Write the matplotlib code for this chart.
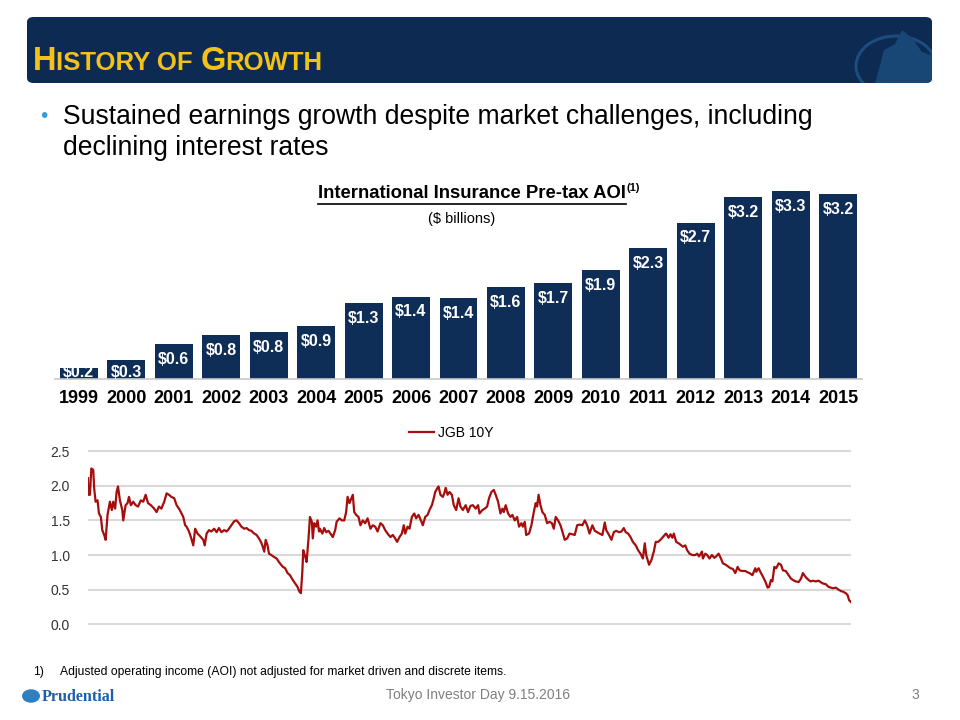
import matplotlib
matplotlib.use("Agg")
import matplotlib.pyplot as plt
from matplotlib.patches import FancyBboxPatch, Circle, Polygon
from matplotlib.lines import Line2D

plt.rcParams['font.family'] = ['Liberation Sans', 'DejaVu Sans']

# bar chart data ($ billions)
years = ["1999", "2000", "2001", "2002", "2003", "2004", "2005", "2006", "2007",
         "2008", "2009", "2010", "2011", "2012", "2013", "2014", "2015"]
aoi = [0.20, 0.34, 0.62, 0.77, 0.83, 0.93, 1.34, 1.45, 1.42,
       1.61, 1.68, 1.92, 2.30, 2.75, 3.20, 3.30, 3.25]
aoi_labels = ["$0.2", "$0.3", "$0.6", "$0.8", "$0.8", "$0.9", "$1.3", "$1.4", "$1.4",
              "$1.6", "$1.7", "$1.9", "$2.3", "$2.7", "$3.2", "$3.3", "$3.2"]

# JGB 10Y yield (%)
jgb_year = [1999.00, 1999.01, 1999.04, 1999.07, 1999.11, 1999.13, 1999.16, 1999.20, 1999.23, 1999.27,
            1999.30, 1999.34, 1999.37, 1999.41, 1999.46, 1999.50, 1999.53, 1999.57, 1999.60, 1999.63,
            1999.67, 1999.72, 1999.74, 1999.79, 1999.83, 1999.86, 1999.90, 1999.95, 2000.00, 2000.05,
            2000.11, 2000.16, 2000.21, 2000.26, 2000.32, 2000.39, 2000.44, 2000.49, 2000.54, 2000.60,
            2000.65, 2000.70, 2000.75, 2000.81, 2000.86, 2000.91, 2000.95, 2001.00, 2001.04, 2001.07,
            2001.12, 2001.16, 2001.21, 2001.25, 2001.30, 2001.37, 2001.42, 2001.45, 2001.49, 2001.54,
            2001.59, 2001.65, 2001.70, 2001.75, 2001.80, 2001.86, 2001.91, 2001.96, 2002.01, 2002.07,
            2002.12, 2002.17, 2002.22, 2002.28, 2002.33, 2002.38, 2002.43, 2002.49, 2002.54, 2002.59,
            2002.63, 2002.66, 2002.70, 2002.73, 2002.77, 2002.80, 2002.85, 2002.89, 2002.96, 2003.03,
            2003.09, 2003.14, 2003.19, 2003.24, 2003.30, 2003.35, 2003.40, 2003.44, 2003.47, 2003.50,
            2003.52, 2003.56, 2003.59, 2003.63, 2003.66, 2003.70, 2003.72, 2003.75, 2003.79, 2003.82,
            2003.85, 2003.87, 2003.92, 2003.96, 2004.00, 2004.05, 2004.10, 2004.14, 2004.19, 2004.22,
            2004.28, 2004.33, 2004.38, 2004.42, 2004.45, 2004.49, 2004.53, 2004.56, 2004.59, 2004.63,
            2004.68, 2004.72, 2004.77, 2004.82, 2004.87, 2004.93, 2004.98, 2005.03, 2005.08, 2005.14,
            2005.19, 2005.24, 2005.29, 2005.35, 2005.40, 2005.45, 2005.49, 2005.54, 2005.59, 2005.63,
            2005.66, 2005.71, 2005.75, 2005.80, 2005.85, 2005.89, 2005.94, 2005.99, 2006.03, 2006.08,
            2006.13, 2006.17, 2006.22, 2006.26, 2006.29, 2006.33, 2006.36, 2006.40, 2006.45, 2006.48,
            2006.51, 2006.55, 2006.59, 2006.64, 2006.68, 2006.73, 2006.78, 2006.82, 2006.87, 2006.93,
            2006.98, 2007.03, 2007.08, 2007.14, 2007.19, 2007.22, 2007.28, 2007.33, 2007.38, 2007.42,
            2007.47, 2007.52, 2007.56, 2007.61, 2007.66, 2007.70, 2007.73, 2007.77, 2007.82, 2007.87,
            2007.91, 2007.96, 2008.01, 2008.05, 2008.10, 2008.13, 2008.17, 2008.20, 2008.26, 2008.31,
            2008.36, 2008.40, 2008.43, 2008.46, 2008.50, 2008.54, 2008.59, 2008.64, 2008.69, 2008.74,
            2008.78, 2008.82, 2008.87, 2008.92, 2008.96, 2009.01, 2009.06, 2009.11, 2009.17, 2009.22,
            2009.27, 2009.32, 2009.38, 2009.43, 2009.48, 2009.53, 2009.59, 2009.64, 2009.69, 2009.74,
            2009.80, 2009.85, 2009.88, 2009.94, 2009.99, 2010.04, 2010.09, 2010.15, 2010.20, 2010.25,
            2010.29, 2010.34, 2010.39, 2010.44, 2010.50, 2010.55, 2010.60, 2010.65, 2010.69, 2010.72,
            2010.78, 2010.83, 2010.88, 2010.92, 2010.97, 2011.02, 2011.07, 2011.12, 2011.14, 2011.19,
            2011.23, 2011.27, 2011.30, 2011.35, 2011.40, 2011.44, 2011.49, 2011.54, 2011.58, 2011.63,
            2011.69, 2011.75, 2011.79, 2011.83, 2011.89, 2011.91, 2011.96, 2012.00, 2012.05, 2012.10,
            2012.15, 2012.19, 2012.24, 2012.29, 2012.33, 2012.39, 2012.45, 2012.49, 2012.54, 2012.59,
            2012.64, 2012.68, 2012.74, 2012.80, 2012.85, 2012.89, 2012.95, 2013.01, 2013.03, 2013.08,
            2013.13, 2013.17, 2013.22, 2013.27, 2013.30, 2013.34, 2013.37, 2013.41, 2013.45, 2013.50,
            2013.55, 2013.59, 2013.65, 2013.71, 2013.76, 2013.80, 2013.86, 2013.92, 2013.97, 2014.01,
            2014.07, 2014.13, 2014.17, 2014.22, 2014.28, 2014.34, 2014.38, 2014.43, 2014.49, 2014.55,
            2014.60, 2014.64, 2014.70, 2014.76, 2014.81, 2014.86, 2014.91, 2014.95, 2014.98, 2015.02]
jgb_yield = [2.11, 1.87, 1.87, 2.25, 2.23, 1.96, 1.77, 1.79, 1.60, 1.55,
             1.36, 1.29, 1.22, 1.58, 1.77, 1.65, 1.77, 1.67, 1.91, 1.99,
             1.79, 1.65, 1.50, 1.72, 1.75, 1.84, 1.72, 1.77, 1.72, 1.70,
             1.79, 1.77, 1.87, 1.75, 1.72, 1.67, 1.62, 1.70, 1.67, 1.77,
             1.89, 1.87, 1.84, 1.82, 1.72, 1.67, 1.62, 1.55, 1.43, 1.41,
             1.34, 1.26, 1.14, 1.38, 1.31, 1.26, 1.22, 1.14, 1.31, 1.36,
             1.34, 1.38, 1.33, 1.39, 1.33, 1.36, 1.34, 1.38, 1.43, 1.49,
             1.50, 1.46, 1.41, 1.38, 1.39, 1.36, 1.35, 1.31, 1.29, 1.24,
             1.19, 1.14, 1.05, 1.22, 1.14, 1.02, 1.00, 0.98, 0.95, 0.88,
             0.83, 0.81, 0.74, 0.71, 0.64, 0.59, 0.54, 0.47, 0.45, 0.76,
             1.07, 0.98, 0.90, 1.24, 1.55, 1.48, 1.24, 1.46, 1.41, 1.50,
             1.34, 1.38, 1.31, 1.39, 1.33, 1.35, 1.30, 1.26, 1.36, 1.48,
             1.53, 1.50, 1.50, 1.62, 1.84, 1.75, 1.82, 1.87, 1.62, 1.58,
             1.55, 1.43, 1.50, 1.46, 1.53, 1.38, 1.43, 1.41, 1.34, 1.46,
             1.43, 1.36, 1.31, 1.26, 1.29, 1.24, 1.19, 1.26, 1.31, 1.43,
             1.31, 1.41, 1.38, 1.55, 1.60, 1.53, 1.58, 1.50, 1.43, 1.55,
             1.58, 1.65, 1.72, 1.82, 1.91, 1.96, 1.99, 1.87, 1.84, 1.89,
             1.97, 1.87, 1.91, 1.87, 1.72, 1.65, 1.82, 1.70, 1.65, 1.72,
             1.62, 1.71, 1.72, 1.67, 1.72, 1.60, 1.65, 1.67, 1.70, 1.82,
             1.91, 1.94, 1.87, 1.77, 1.60, 1.67, 1.62, 1.72, 1.60, 1.55,
             1.58, 1.50, 1.55, 1.41, 1.46, 1.41, 1.48, 1.29, 1.31, 1.43,
             1.62, 1.75, 1.70, 1.87, 1.72, 1.62, 1.58, 1.46, 1.48, 1.46,
             1.38, 1.55, 1.50, 1.43, 1.34, 1.22, 1.24, 1.31, 1.30, 1.29,
             1.43, 1.44, 1.43, 1.50, 1.43, 1.31, 1.43, 1.35, 1.33, 1.31,
             1.29, 1.47, 1.36, 1.29, 1.22, 1.33, 1.35, 1.33, 1.34, 1.39,
             1.33, 1.31, 1.26, 1.19, 1.14, 1.07, 1.02, 0.95, 1.17, 1.00,
             0.86, 0.93, 1.05, 1.19, 1.19, 1.22, 1.26, 1.30, 1.31, 1.25,
             1.30, 1.25, 1.31, 1.19, 1.17, 1.15, 1.12, 1.14, 1.07, 1.02,
             1.00, 1.00, 1.02, 0.98, 1.05, 0.95, 1.02, 1.00, 0.95, 1.00,
             0.96, 0.98, 1.02, 0.95, 0.88, 0.86, 0.83, 0.81, 0.80, 0.74,
             0.83, 0.78, 0.77, 0.77, 0.75, 0.74, 0.71, 0.81, 0.76, 0.81,
             0.74, 0.69, 0.62, 0.53, 0.54, 0.64, 0.62, 0.83, 0.81, 0.88,
             0.86, 0.78, 0.77, 0.71, 0.66, 0.64, 0.62, 0.61, 0.66, 0.74,
             0.68, 0.64, 0.62, 0.63, 0.62, 0.63, 0.61, 0.59, 0.58, 0.54,
             0.53, 0.52, 0.53, 0.50, 0.48, 0.47, 0.45, 0.42, 0.35, 0.32]

NAVY = "#0c2a52"
BAR_BLUE = "#0e2d57"
GOLD = "#f2c21a"

W, H = 960, 720
fig = plt.figure(figsize=(9.6, 7.2), dpi=100)


def fx(x):
    return x / W


def fy(y):
    return 1 - y / H


# title bar with faint rock logo on the right
bar = FancyBboxPatch((fx(27), fy(83)), fx(905), 66 / H, boxstyle="round,pad=0,rounding_size=0.007",
                     transform=fig.transFigure, facecolor=NAVY, edgecolor="none")
fig.patches.append(bar)
logo = Circle((fx(896), fy(66)), 40 / W, transform=fig.transFigure, fill=False,
              edgecolor="#1d4c7e", lw=2.2)
logo.set_clip_path(bar)
fig.patches.append(logo)
rock = Polygon([(fx(872), fy(95)), (fx(884), fy(50)), (fx(895), fy(44)), (fx(902), fy(30)),
                (fx(912), fy(38)), (fx(922), fy(52)), (fx(934), fy(56)), (fx(934), fy(95))],
               closed=True, transform=fig.transFigure, facecolor="#184675", edgecolor="none")
rock.set_clip_path(bar)
fig.patches.append(rock)

renderer = fig.canvas.get_renderer()
xpos = 33
for piece, size in [("H", 23.5), ("ISTORY OF ", 18.5), ("G", 23.5), ("ROWTH", 18.5)]:
    t = fig.text(fx(xpos), fy(70), piece, fontsize=size, fontweight="bold", color=GOLD,
                 va="baseline", ha="left")
    xpos = t.get_window_extent(renderer).x1

# bullet
fig.text(fx(40), fy(117), "\u2022", fontsize=15, color="#3a9ad9", va="center", ha="left")
fig.text(fx(63), fy(117), "Sustained earnings growth despite market challenges, including",
         fontsize=19.1, va="center", ha="left", color="black")
fig.text(fx(63), fy(148), "declining interest rates", fontsize=19.1, va="center", ha="left", color="black")

# chart title, underlined
ct = fig.text(fx(472), fy(194), "International Insurance Pre-tax AOI", fontsize=13.3,
              fontweight="bold", ha="center", va="center")
ext = ct.get_window_extent(renderer)
fig.lines.append(Line2D([ext.x0 / W, ext.x1 / W], [ext.y0 / H - 1.5 / H] * 2,
                        transform=fig.transFigure, color="black", lw=1.2))
fig.text(ext.x1 / W + 0.5 / W, fy(188), "(1)", fontsize=8, fontweight="bold", ha="left", va="center")
fig.text(fx(462), fy(219), "($ billions)", fontsize=10.5, ha="center", va="center")

# bar chart
ax1 = fig.add_axes([fx(55), fy(379), fx(807), 199 / H])
xs = list(range(len(years)))
ax1.bar(xs, aoi, width=0.8, color=BAR_BLUE)
for x, v, lab in zip(xs, aoi, aoi_labels):
    ax1.text(x, max(v - 0.27, 0.11), lab, ha="center", va="center", color="white",
             fontsize=11.5, fontweight="bold")
ax1.set_xlim(-0.5, 16.5)
ax1.set_ylim(0, 3.5)
ax1.set_xticks(xs)
ax1.set_xticklabels(years, fontsize=13, fontweight="bold")
ax1.tick_params(axis="x", length=0, pad=8)
ax1.set_yticks([])
for s in ["top", "right", "left"]:
    ax1.spines[s].set_visible(False)
ax1.spines["bottom"].set_color("#c8c8c8")
ax1.spines["bottom"].set_linewidth(1.2)
ax1.patch.set_alpha(0)

# JGB line chart
ax2 = fig.add_axes([fx(88), fy(629.2), fx(763), 185 / H])
line, = ax2.plot(jgb_year, jgb_yield, color="#a60d0d", lw=1.6)
ax2.set_xlim(1999.0, 2015.02)
ax2.set_ylim(-0.07, 2.6)
ax2.set_yticks([0.0, 0.5, 1.0, 1.5, 2.0, 2.5])
ax2.set_yticklabels(["0.0", "0.5", "1.0", "1.5", "2.0", "2.5"], fontsize=10, color="#333333")
ax2.set_xticks([])
ax2.tick_params(axis="y", length=0, pad=13)
ax2.grid(axis="y", color="#d9d9d9", lw=1.5)
ax2.set_axisbelow(True)
for s in ax2.spines.values():
    s.set_visible(False)
ax2.patch.set_alpha(0)
fig.legend([line], ["JGB 10Y"], loc="center", bbox_to_anchor=(fx(451), fy(433)), frameon=False,
           fontsize=10, handlelength=1.8, handletextpad=0.3)

# footnote and footer
fig.text(fx(33), fy(672), "1)", fontsize=8.7, ha="left", va="center")
fig.text(fx(60), fy(672), "Adjusted operating income (AOI) not adjusted for market driven and discrete items.",
         fontsize=8.7, ha="left", va="center")
fig.patches.append(Circle((fx(31), fy(696)), 9 / W, transform=fig.transFigure, facecolor="#2f7fc1",
                          edgecolor="none"))
fig.text(fx(42), fy(697), "Prudential", fontsize=11.6, fontweight="bold", color="#1f5fa8",
         family=["Liberation Serif", "DejaVu Serif"], ha="left", va="center")
fig.text(fx(478), fy(695), "Tokyo Investor Day 9.15.2016", fontsize=10, color="#7f7f7f",
         ha="center", va="center")
fig.text(fx(915), fy(695), "3", fontsize=10, color="#7f7f7f", ha="center", va="center")

fig.savefig("out.png", dpi=100)
